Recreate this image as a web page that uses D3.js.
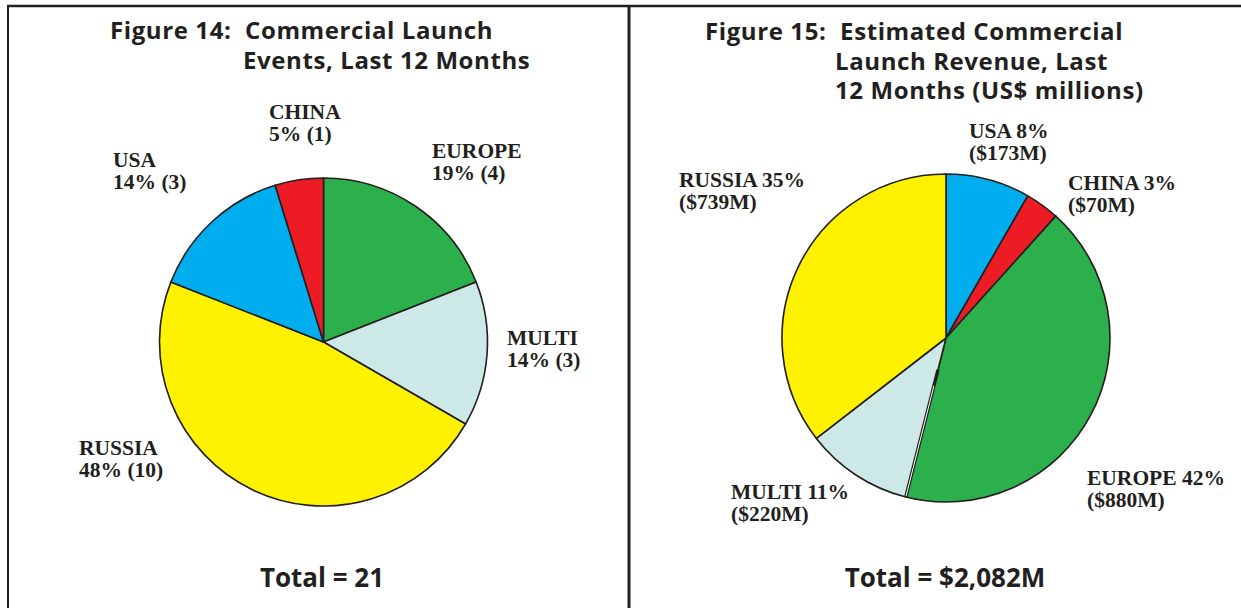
<!DOCTYPE html>
<html>
<head>
<meta charset="utf-8">
<script src="https://cdn.jsdelivr.net/npm/d3@7"></script>
<style>
  body { margin: 0; background: #fff; }
  svg { display: block; }
</style>
</head>
<body>
<svg id="chart" width="1241" height="608"></svg>
<script>
// data fig 14 - launches
var launchNames = ["EUROPE", "MULTI", "RUSSIA", "USA", "CHINA"];
var launchCounts = [4, 3, 10, 3, 1];
var launchLabels = [["EUROPE", "19% (4)"], ["MULTI", "14% (3)"], ["RUSSIA", "48% (10)"], ["USA", "14% (3)"], ["CHINA", "5% (1)"]];

// data fig 15 - revenue (US$ millions)
var revNames = ["USA", "CHINA", "EUROPE", "MULTI", "RUSSIA"];
var revValues = [173, 70, 880, 220, 739];
var revLabels = [["USA 8%", "($173M)"], ["CHINA 3%", "($70M)"], ["EUROPE 42%", "($880M)"], ["MULTI 11%", "($220M)"], ["RUSSIA 35%", "($739M)"]];

var colors = {
  EUROPE: "#2cb04b",
  MULTI: "#cce8e7",
  RUSSIA: "#fff200",
  USA: "#00aeef",
  CHINA: "#ed1c24"
};
var ink = "#231f20";
var sansFont = "'Open Sans', Lato, sans-serif";

var svg = d3.select("#chart");

// frame
svg.append("line").attr("x1", 7).attr("x2", 1241).attr("y1", 6).attr("y2", 6)
  .attr("stroke", ink).attr("stroke-width", 2.5);
svg.append("line").attr("x1", 8).attr("x2", 8).attr("y1", 5).attr("y2", 608)
  .attr("stroke", ink).attr("stroke-width", 2);
svg.append("line").attr("x1", 629).attr("x2", 629).attr("y1", 5).attr("y2", 608)
  .attr("stroke", ink).attr("stroke-width", 3);

function title(lines) {
  lines.forEach(function(l) {
    svg.append("text")
      .attr("x", l[0]).attr("y", l[1])
      .attr("font-family", sansFont)
      .attr("font-weight", "bold")
      .attr("font-size", 24)
      .attr("letter-spacing", 0.6)
      .attr("fill", ink)
      .attr("xml:space", "preserve")
      .text(l[2]);
  });
}

function drawPie(cx, cy, r, names, values, labels, labelPos, gapAt) {
  var pie = d3.pie().sort(null).value(function(d) { return d; });
  var arc = d3.arc().innerRadius(0).outerRadius(r);
  var slices = pie(values);
  var g = svg.append("g").attr("transform", "translate(" + cx + "," + cy + ")");
  g.selectAll("path")
    .data(slices)
    .enter()
    .append("path")
    .attr("d", arc)
    .attr("fill", function(d, i) { return colors[names[i]]; })
    .attr("stroke", ink)
    .attr("stroke-width", 1.6)
    .attr("stroke-linejoin", "round");

  // double edge seen in the original between two slices
  if (gapAt != null) {
    var a = slices[gapAt].startAngle;
    var x2 = Math.sin(a) * r, y2 = -Math.cos(a) * r;
    g.append("line").attr("x1", x2 * 0.2).attr("y1", y2 * 0.2).attr("x2", x2).attr("y2", y2)
      .attr("stroke", ink).attr("stroke-width", 3.4);
    g.append("line").attr("x1", x2 * 0.3).attr("y1", y2 * 0.3).attr("x2", x2 * 0.995).attr("y2", y2 * 0.995)
      .attr("stroke", "#fff").attr("stroke-width", 1);
  }

  labels.forEach(function(lb, i) {
    var t = svg.append("text")
      .attr("x", labelPos[i][0]).attr("y", labelPos[i][1])
      .attr("font-family", "'Liberation Serif', 'DejaVu Serif', serif")
      .attr("font-weight", "bold")
      .attr("font-size", 21.5)
      .attr("fill", ink);
    lb.forEach(function(s, j) {
      t.append("tspan").attr("x", labelPos[i][0]).attr("dy", j == 0 ? 0 : 21.5).text(s);
    });
  });
}

// figure 14
title([[110, 39, "Figure 14:  Commercial Launch"], [243, 69, "Events, Last 12 Months"]]);
drawPie(323.5, 342, 164, launchNames, launchCounts, launchLabels,
  [[432, 158], [507, 345], [79, 455], [113, 167], [269, 119]], null);

// figure 15
title([[705, 40, "Figure 15:  Estimated Commercial"], [835, 70, "Launch Revenue, Last"], [835, 99, "12 Months (US$ millions)"]]);
drawPie(946, 338, 164, revNames, revValues, revLabels,
  [[969, 138], [1068, 190], [1087, 485], [731, 499], [679, 187]], 3);

// totals
svg.append("text").attr("x", 322).attr("y", 587).attr("text-anchor", "middle")
  .attr("font-family", sansFont).attr("font-weight", "bold")
  .attr("font-size", 26).attr("fill", ink).text("Total = 21");
svg.append("text").attr("x", 945).attr("y", 587).attr("text-anchor", "middle")
  .attr("font-family", sansFont).attr("font-weight", "bold")
  .attr("font-size", 26).attr("fill", ink).text("Total = $2,082M");
</script>
</body>
</html>
